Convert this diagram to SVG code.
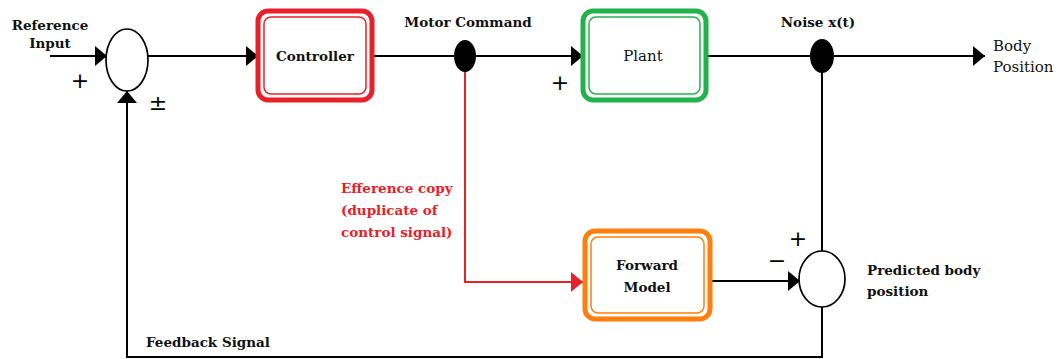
<svg xmlns="http://www.w3.org/2000/svg" width="1058" height="359" viewBox="0 0 1058 359">
  <defs>
    <marker id="arrow" viewBox="0 0 12 20" refX="12" refY="10" markerWidth="12" markerHeight="20" markerUnits="userSpaceOnUse" orient="auto">
      <path d="M0,0 L12,10 L0,20 Z" fill="#000"/>
    </marker>
    <marker id="arrow-red" viewBox="0 0 12 20" refX="12" refY="10" markerWidth="12" markerHeight="20" markerUnits="userSpaceOnUse" orient="auto">
      <path d="M0,0 L12,10 L0,20 Z" fill="#e8202a"/>
    </marker>
  </defs>
  <style>
    .bg { fill: #fff; }
    .wire { fill: none; stroke: #000; stroke-width: 2; }
    .wire-red { fill: none; stroke: #e8202a; stroke-width: 2; }
    .sum { fill: #fff; stroke: #000; stroke-width: 1.7; }
    .dot { fill: #000; }
    .box-outer { fill: #fff; stroke-width: 5; }
    .box-inner { fill: none; stroke-width: 1.5; }
    .t { font-family: "DejaVu Serif", "Liberation Serif", serif; font-size: 13.5px; fill: #111; }
    .b { font-weight: bold; }
    .r { font-size: 15px; }
    .c { text-anchor: middle; }
    .sign { font-family: "DejaVu Sans", sans-serif; font-size: 22px; fill: #000; }
    .red { fill: #e8202a; }
  </style>

  <rect class="bg" x="0" y="0" width="1058" height="359"/>

  <!-- signal lines -->
  <g id="connectors">
    <line class="wire" x1="50" y1="56" x2="107" y2="56" marker-end="url(#arrow)"/>
    <line class="wire" x1="148" y1="56" x2="258" y2="56" marker-end="url(#arrow)"/>
    <line class="wire" x1="372" y1="56" x2="465" y2="56"/>
    <line class="wire" x1="465" y1="56" x2="583" y2="56" marker-end="url(#arrow)"/>
    <line class="wire" x1="706" y1="56" x2="822" y2="56"/>
    <line class="wire" x1="822" y1="56" x2="985" y2="56" marker-end="url(#arrow)"/>
    <line class="wire" x1="822" y1="56" x2="822" y2="251"/>
    <line class="wire" x1="710" y1="281" x2="800" y2="281" marker-end="url(#arrow)"/>
    <polyline class="wire" points="822,307 822,357 127,357 127,91" marker-end="url(#arrow)"/>
    <polyline class="wire-red" points="465,64 465,282 583,282" marker-end="url(#arrow-red)"/>
  </g>

  <!-- summing junction at the input -->
  <g id="sum-input">
    <ellipse class="sum" cx="127" cy="60" rx="21" ry="31"/>
    <text class="sign" x="80" y="88" text-anchor="middle">+</text>
    <text class="sign" x="158" y="110" text-anchor="middle" font-size="18">±</text>
  </g>

  <g id="reference-input">
    <text class="t b c" x="50" y="30">Reference</text>
    <text class="t b c" x="50" y="48">Input</text>
  </g>

  <g id="controller">
    <rect class="box-outer" x="258" y="11" width="114" height="89" rx="10" stroke="#e8202a"/>
    <rect class="box-inner" x="264" y="17" width="102" height="77" rx="7" stroke="#e8202a"/>
    <text class="t b c" x="315" y="61">Controller</text>
  </g>

  <g id="motor-command">
    <ellipse class="dot" cx="465" cy="56" rx="11" ry="16"/>
    <text class="t b c" x="468" y="27">Motor Command</text>
  </g>

  <g id="plant">
    <rect class="box-outer" x="583" y="11" width="123" height="89" rx="10" stroke="#22b24c"/>
    <rect class="box-inner" x="589" y="17" width="111" height="77" rx="7" stroke="#22b24c"/>
    <text class="t r c" x="643" y="61">Plant</text>
    <text class="sign" x="560" y="90" text-anchor="middle">+</text>
  </g>

  <g id="noise">
    <ellipse class="dot" cx="822" cy="56" rx="12" ry="17"/>
    <text class="t b c" x="818" y="27">Noise x(t)</text>
  </g>

  <g id="body-position">
    <text class="t r" x="993" y="51">Body</text>
    <text class="t r" x="993" y="72">Position</text>
  </g>

  <g id="efference-copy">
    <text class="t b red" x="341" y="193">Efference copy</text>
    <text class="t b red" x="341" y="215">(duplicate of</text>
    <text class="t b red" x="341" y="237">control signal)</text>
  </g>

  <g id="forward-model">
    <rect class="box-outer" x="585" y="231" width="125" height="88" rx="10" stroke="#ff7f0e"/>
    <rect class="box-inner" x="591" y="237" width="113" height="76" rx="7" stroke="#ff7f0e"/>
    <text class="t b c" x="647" y="270">Forward</text>
    <text class="t b c" x="647" y="292">Model</text>
  </g>

  <g id="sum-prediction">
    <ellipse class="sum" cx="822" cy="279" rx="23" ry="28"/>
    <text class="sign" x="798" y="246" text-anchor="middle">+</text>
    <text class="sign" x="777" y="268" text-anchor="middle">−</text>
    <text class="t b" x="867" y="275">Predicted body</text>
    <text class="t b" x="867" y="296">position</text>
  </g>

  <g id="feedback">
    <text class="t b" x="146" y="347">Feedback Signal</text>
  </g>
</svg>
